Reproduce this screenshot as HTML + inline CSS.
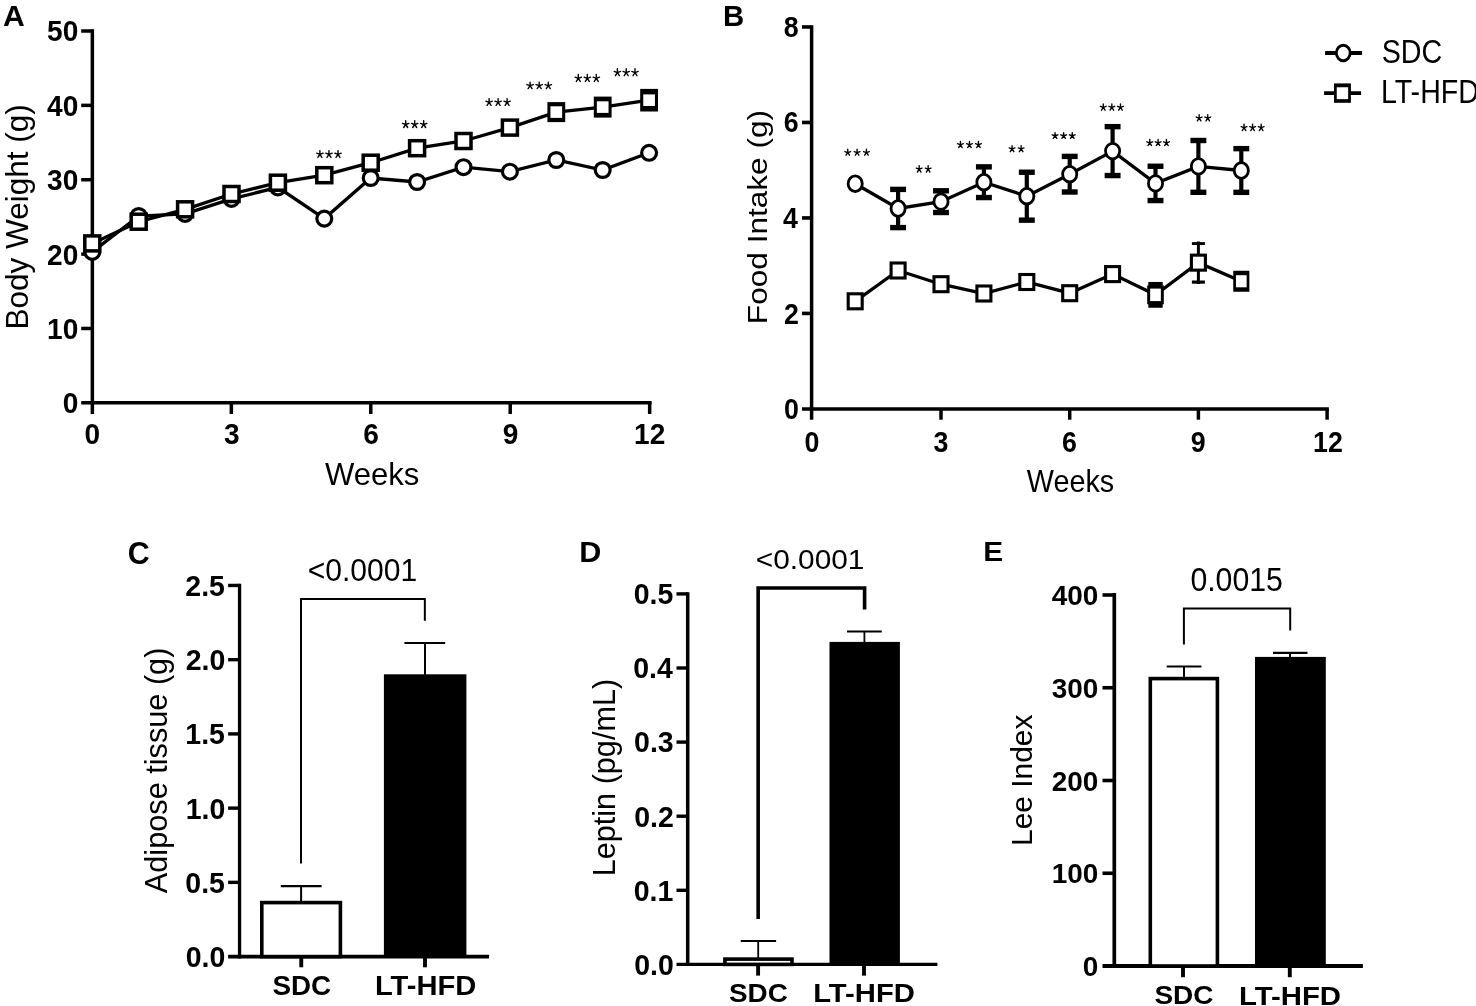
<!DOCTYPE html>
<html><head><meta charset="utf-8"><style>
html,body{margin:0;padding:0;background:#fff;}
svg{display:block;will-change:transform;}
text{font-family:"Liberation Sans",sans-serif;fill:#000;stroke:none;}
</style></head><body>
<svg width="1476" height="1006" viewBox="0 0 1476 1006" stroke="#000" stroke-linecap="butt">
<rect x="0" y="0" width="1476" height="1006" fill="#fff" stroke="none"/>
<text transform="translate(2.95,25.80) scale(1.0099,1)" font-size="29.86" font-weight="bold">A</text>
<line x1="92.35" y1="29.25" x2="92.35" y2="414.00" stroke-width="3.5"/>
<line x1="81.20" y1="402.85" x2="651.66" y2="402.85" stroke-width="3.5"/>
<line x1="81.20" y1="328.48" x2="92.35" y2="328.48" stroke-width="3.5"/>
<line x1="81.20" y1="254.11" x2="92.35" y2="254.11" stroke-width="3.5"/>
<line x1="81.20" y1="179.74" x2="92.35" y2="179.74" stroke-width="3.5"/>
<line x1="81.20" y1="105.37" x2="92.35" y2="105.37" stroke-width="3.5"/>
<line x1="81.20" y1="31.00" x2="92.35" y2="31.00" stroke-width="3.5"/>
<line x1="231.34" y1="402.85" x2="231.34" y2="414.00" stroke-width="3.5"/>
<line x1="370.78" y1="402.85" x2="370.78" y2="414.00" stroke-width="3.5"/>
<line x1="510.22" y1="402.85" x2="510.22" y2="414.00" stroke-width="3.5"/>
<line x1="649.66" y1="402.85" x2="649.66" y2="414.00" stroke-width="3.5"/>
<text transform="translate(62.64,413.24) scale(0.9796,1)" font-size="28.66" font-weight="bold">0</text>
<text transform="translate(47.06,338.87) scale(0.9796,1)" font-size="28.66" font-weight="bold">10</text>
<text transform="translate(47.06,264.50) scale(0.9796,1)" font-size="28.66" font-weight="bold">20</text>
<text transform="translate(47.06,190.13) scale(0.9796,1)" font-size="28.66" font-weight="bold">30</text>
<text transform="translate(47.06,115.76) scale(0.9796,1)" font-size="28.66" font-weight="bold">40</text>
<text transform="translate(47.06,41.39) scale(0.9796,1)" font-size="28.66" font-weight="bold">50</text>
<text transform="translate(84.41,443.69) scale(0.9796,1)" font-size="28.66" font-weight="bold">0</text>
<text transform="translate(223.99,443.69) scale(0.9796,1)" font-size="28.66" font-weight="bold">3</text>
<text transform="translate(363.29,443.69) scale(0.9796,1)" font-size="28.66" font-weight="bold">6</text>
<text transform="translate(502.73,443.69) scale(0.9796,1)" font-size="28.66" font-weight="bold">9</text>
<text transform="translate(634.03,443.83) scale(0.9796,1)" font-size="28.66" font-weight="bold">12</text>
<text transform="translate(324.94,484.69) scale(1.0070,1)" font-size="30.88">Weeks</text>
<text transform="translate(28.49,329.52) rotate(-90) scale(1.0160,1)" font-size="31.02">Body Weight (g)</text>
<polyline points="92.30,251.90 138.70,216.00 185.10,213.90 231.50,198.90 277.90,187.40 324.30,218.60 370.70,178.00 417.10,182.00 463.50,167.20 509.90,171.70 556.30,160.00 602.70,170.00 649.10,152.80" fill="none" stroke-width="3.3" stroke-linejoin="miter"/>
<ellipse cx="92.30" cy="251.90" rx="7.45" ry="7.45" fill="#fff" stroke-width="3.2"/>
<ellipse cx="138.70" cy="216.00" rx="7.45" ry="7.45" fill="#fff" stroke-width="3.2"/>
<ellipse cx="185.10" cy="213.90" rx="7.45" ry="7.45" fill="#fff" stroke-width="3.2"/>
<ellipse cx="231.50" cy="198.90" rx="7.45" ry="7.45" fill="#fff" stroke-width="3.2"/>
<ellipse cx="277.90" cy="187.40" rx="7.45" ry="7.45" fill="#fff" stroke-width="3.2"/>
<ellipse cx="324.30" cy="218.60" rx="7.45" ry="7.45" fill="#fff" stroke-width="3.2"/>
<ellipse cx="370.70" cy="178.00" rx="7.45" ry="7.45" fill="#fff" stroke-width="3.2"/>
<ellipse cx="417.10" cy="182.00" rx="7.45" ry="7.45" fill="#fff" stroke-width="3.2"/>
<ellipse cx="463.50" cy="167.20" rx="7.45" ry="7.45" fill="#fff" stroke-width="3.2"/>
<ellipse cx="509.90" cy="171.70" rx="7.45" ry="7.45" fill="#fff" stroke-width="3.2"/>
<ellipse cx="556.30" cy="160.00" rx="7.45" ry="7.45" fill="#fff" stroke-width="3.2"/>
<ellipse cx="602.70" cy="170.00" rx="7.45" ry="7.45" fill="#fff" stroke-width="3.2"/>
<ellipse cx="649.10" cy="152.80" rx="7.45" ry="7.45" fill="#fff" stroke-width="3.2"/>
<polyline points="92.30,243.40 138.70,221.70 185.10,209.30 231.50,194.00 277.90,182.70 324.30,175.20 370.70,162.70 417.10,148.20 463.50,141.00 509.90,127.60 556.30,112.10 602.70,107.10 649.10,100.20" fill="none" stroke-width="3.3" stroke-linejoin="miter"/>
<rect x="84.80" y="235.90" width="15.00" height="15.00" fill="#fff" stroke-width="3.5"/>
<rect x="131.20" y="214.20" width="15.00" height="15.00" fill="#fff" stroke-width="3.5"/>
<rect x="177.60" y="201.80" width="15.00" height="15.00" fill="#fff" stroke-width="3.5"/>
<rect x="224.00" y="186.50" width="15.00" height="15.00" fill="#fff" stroke-width="3.5"/>
<rect x="270.40" y="175.20" width="15.00" height="15.00" fill="#fff" stroke-width="3.5"/>
<rect x="316.80" y="167.70" width="15.00" height="15.00" fill="#fff" stroke-width="3.5"/>
<rect x="363.20" y="155.20" width="15.00" height="15.00" fill="#fff" stroke-width="3.5"/>
<rect x="409.60" y="140.70" width="15.00" height="15.00" fill="#fff" stroke-width="3.5"/>
<rect x="456.00" y="133.50" width="15.00" height="15.00" fill="#fff" stroke-width="3.5"/>
<rect x="502.40" y="120.10" width="15.00" height="15.00" fill="#fff" stroke-width="3.5"/>
<rect x="547.40" y="102.10" width="17.80" height="20.00" fill="#000" stroke="none"/>
<rect x="550.45" y="106.30" width="11.70" height="11.60" fill="#fff" stroke="none"/>
<rect x="593.80" y="96.60" width="17.80" height="21.00" fill="#000" stroke="none"/>
<rect x="596.85" y="101.30" width="11.70" height="11.60" fill="#fff" stroke="none"/>
<rect x="640.20" y="88.90" width="17.80" height="22.60" fill="#000" stroke="none"/>
<rect x="643.25" y="94.40" width="11.70" height="11.60" fill="#fff" stroke="none"/>
<path d="M319.90,154.36L319.90,150.60M319.90,154.36L323.10,153.20M319.90,154.36L316.70,153.20M319.90,154.36L317.92,157.40M319.90,154.36L321.88,157.40M328.95,154.36L328.95,150.60M328.95,154.36L332.15,153.20M328.95,154.36L325.75,153.20M328.95,154.36L326.97,157.40M328.95,154.36L330.93,157.40M338.00,154.36L338.00,150.60M338.00,154.36L341.20,153.20M338.00,154.36L334.80,153.20M338.00,154.36L336.02,157.40M338.00,154.36L339.98,157.40" fill="none" stroke-width="1.4" stroke-linecap="round"/>
<path d="M405.70,124.50L405.70,120.80M405.70,124.50L408.90,123.36M405.70,124.50L402.50,123.36M405.70,124.50L403.72,127.50M405.70,124.50L407.68,127.50M414.70,124.50L414.70,120.80M414.70,124.50L417.90,123.36M414.70,124.50L411.50,123.36M414.70,124.50L412.72,127.50M414.70,124.50L416.68,127.50M423.70,124.50L423.70,120.80M423.70,124.50L426.90,123.36M423.70,124.50L420.50,123.36M423.70,124.50L421.72,127.50M423.70,124.50L425.68,127.50" fill="none" stroke-width="1.4" stroke-linecap="round"/>
<path d="M489.10,102.30L489.10,98.60M489.10,102.30L492.30,101.16M489.10,102.30L485.90,101.16M489.10,102.30L487.12,105.30M489.10,102.30L491.08,105.30M498.10,102.30L498.10,98.60M498.10,102.30L501.30,101.16M498.10,102.30L494.90,101.16M498.10,102.30L496.12,105.30M498.10,102.30L500.08,105.30M507.10,102.30L507.10,98.60M507.10,102.30L510.30,101.16M507.10,102.30L503.90,101.16M507.10,102.30L505.12,105.30M507.10,102.30L509.08,105.30" fill="none" stroke-width="1.4" stroke-linecap="round"/>
<path d="M530.10,85.69L530.10,82.10M530.10,85.69L533.30,84.58M530.10,85.69L526.90,84.58M530.10,85.69L528.12,88.60M530.10,85.69L532.08,88.60M539.20,85.69L539.20,82.10M539.20,85.69L542.40,84.58M539.20,85.69L536.00,84.58M539.20,85.69L537.22,88.60M539.20,85.69L541.18,88.60M548.30,85.69L548.30,82.10M548.30,85.69L551.50,84.58M548.30,85.69L545.10,84.58M548.30,85.69L546.32,88.60M548.30,85.69L550.28,88.60" fill="none" stroke-width="1.4" stroke-linecap="round"/>
<path d="M578.30,78.31L578.30,74.50M578.30,78.31L581.50,77.14M578.30,78.31L575.10,77.14M578.30,78.31L576.32,81.40M578.30,78.31L580.28,81.40M587.30,78.31L587.30,74.50M587.30,78.31L590.50,77.14M587.30,78.31L584.10,77.14M587.30,78.31L585.32,81.40M587.30,78.31L589.28,81.40M596.30,78.31L596.30,74.50M596.30,78.31L599.50,77.14M596.30,78.31L593.10,77.14M596.30,78.31L594.32,81.40M596.30,78.31L598.28,81.40" fill="none" stroke-width="1.4" stroke-linecap="round"/>
<path d="M617.40,72.61L617.40,68.80M617.40,72.61L620.60,71.44M617.40,72.61L614.20,71.44M617.40,72.61L615.42,75.70M617.40,72.61L619.38,75.70M626.20,72.61L626.20,68.80M626.20,72.61L629.40,71.44M626.20,72.61L623.00,71.44M626.20,72.61L624.22,75.70M626.20,72.61L628.18,75.70M635.00,72.61L635.00,68.80M635.00,72.61L638.20,71.44M635.00,72.61L631.80,71.44M635.00,72.61L633.02,75.70M635.00,72.61L636.98,75.70" fill="none" stroke-width="1.4" stroke-linecap="round"/>
<text transform="translate(722.89,26.10) scale(0.9688,1)" font-size="30.29" font-weight="bold">B</text>
<line x1="811.60" y1="25.28" x2="811.60" y2="419.70" stroke-width="3.5"/>
<line x1="802.00" y1="408.90" x2="1328.85" y2="408.90" stroke-width="3.5"/>
<line x1="802.00" y1="313.42" x2="811.60" y2="313.42" stroke-width="3.6"/>
<line x1="802.00" y1="217.94" x2="811.60" y2="217.94" stroke-width="3.6"/>
<line x1="802.00" y1="122.46" x2="811.60" y2="122.46" stroke-width="3.6"/>
<line x1="802.00" y1="26.98" x2="811.60" y2="26.98" stroke-width="3.6"/>
<line x1="941.00" y1="408.90" x2="941.00" y2="419.70" stroke-width="3.5"/>
<line x1="1069.70" y1="408.90" x2="1069.70" y2="419.70" stroke-width="3.5"/>
<line x1="1198.40" y1="408.90" x2="1198.40" y2="419.70" stroke-width="3.5"/>
<line x1="1327.10" y1="408.90" x2="1327.10" y2="419.70" stroke-width="3.5"/>
<text transform="translate(784.01,418.84) scale(0.9300,1)" font-size="28.80" font-weight="bold">0</text>
<text transform="translate(784.01,323.50) scale(0.9300,1)" font-size="28.80" font-weight="bold">2</text>
<text transform="translate(783.07,227.88) scale(0.9300,1)" font-size="28.80" font-weight="bold">4</text>
<text transform="translate(783.87,132.40) scale(0.9300,1)" font-size="28.80" font-weight="bold">6</text>
<text transform="translate(783.74,36.92) scale(0.9300,1)" font-size="28.80" font-weight="bold">8</text>
<text transform="translate(804.57,451.74) scale(0.9300,1)" font-size="28.80" font-weight="bold">0</text>
<text transform="translate(933.40,451.74) scale(0.9300,1)" font-size="28.80" font-weight="bold">3</text>
<text transform="translate(1061.97,451.74) scale(0.9300,1)" font-size="28.80" font-weight="bold">6</text>
<text transform="translate(1190.67,451.74) scale(0.9300,1)" font-size="28.80" font-weight="bold">9</text>
<text transform="translate(1313.10,451.88) scale(0.9300,1)" font-size="28.80" font-weight="bold">12</text>
<text transform="translate(1026.86,491.88) scale(0.9114,1)" font-size="31.56">Weeks</text>
<text transform="translate(767.20,324.13) rotate(-90) scale(1.1059,1)" font-size="28.56">Food Intake (g)</text>
<line x1="1325.10" y1="53.00" x2="1362.10" y2="53.00" stroke-width="4"/>
<ellipse cx="1343.25" cy="53.00" rx="6.90" ry="7.75" fill="#fff" stroke-width="2.8"/>
<text transform="translate(1381.71,63.06) scale(0.8488,1)" font-size="33.80">SDC</text>
<line x1="1324.10" y1="93.10" x2="1361.10" y2="93.10" stroke-width="3.7"/>
<rect x="1334.00" y="83.40" width="16.90" height="19.40" fill="#000" stroke="none"/>
<rect x="1336.75" y="87.25" width="11.40" height="11.90" fill="#fff" stroke="none"/>
<text transform="translate(1380.96,103.10) scale(0.8768,1)" font-size="32.61">LT-HFD</text>
<polyline points="855.20,301.30 898.10,270.50 941.00,284.20 983.90,293.50 1026.80,282.00 1069.70,293.20 1112.60,274.10 1155.50,294.85 1198.40,262.65 1241.30,281.25" fill="none" stroke-width="3.3" stroke-linejoin="miter"/>
<rect x="848.20" y="293.80" width="14.00" height="15.00" fill="#fff" stroke-width="3.1"/>
<rect x="891.10" y="263.00" width="14.00" height="15.00" fill="#fff" stroke-width="3.1"/>
<rect x="934.00" y="276.70" width="14.00" height="15.00" fill="#fff" stroke-width="3.1"/>
<rect x="976.90" y="286.00" width="14.00" height="15.00" fill="#fff" stroke-width="3.1"/>
<rect x="1019.80" y="274.50" width="14.00" height="15.00" fill="#fff" stroke-width="3.1"/>
<rect x="1062.70" y="285.70" width="14.00" height="15.00" fill="#fff" stroke-width="3.1"/>
<rect x="1105.60" y="266.60" width="14.00" height="15.00" fill="#fff" stroke-width="3.1"/>
<rect x="1148.30" y="281.95" width="14.40" height="25.80" fill="#000" stroke="none"/>
<rect x="1147.20" y="285.45" width="16.60" height="18.80" fill="#000" stroke="none"/>
<rect x="1150.15" y="288.60" width="10.70" height="12.50" fill="#fff" stroke="none"/>
<line x1="1198.40" y1="241.50" x2="1198.40" y2="284.00" stroke-width="3.0"/>
<rect x="1191.90" y="242.10" width="13.00" height="2.90" fill="#000" stroke="none"/>
<rect x="1191.90" y="280.50" width="13.00" height="3.20" fill="#000" stroke="none"/>
<rect x="1191.40" y="255.15" width="14.00" height="15.00" fill="#fff" stroke-width="3.1"/>
<rect x="1233.25" y="270.75" width="16.10" height="21.00" fill="#000" stroke="none"/>
<rect x="1235.95" y="275.20" width="10.70" height="12.10" fill="#fff" stroke="none"/>
<polyline points="855.20,183.70 898.10,208.50 941.00,201.65 983.90,182.20 1026.80,196.20 1069.70,174.20 1112.60,151.10 1155.50,183.40 1198.40,166.40 1241.30,170.50" fill="none" stroke-width="3.3" stroke-linejoin="miter"/>
<ellipse cx="855.20" cy="183.70" rx="7.08" ry="7.78" fill="#fff" stroke-width="2.8"/>
<line x1="898.10" y1="189.40" x2="898.10" y2="227.60" stroke-width="4.2"/>
<rect x="890.15" y="186.70" width="15.90" height="5.40" fill="#000" stroke="none"/>
<rect x="890.15" y="224.90" width="15.90" height="5.40" fill="#000" stroke="none"/>
<ellipse cx="898.10" cy="208.50" rx="7.08" ry="7.78" fill="#fff" stroke-width="2.8"/>
<line x1="941.00" y1="190.80" x2="941.00" y2="212.50" stroke-width="4.2"/>
<rect x="933.05" y="188.10" width="15.90" height="5.40" fill="#000" stroke="none"/>
<rect x="933.05" y="209.80" width="15.90" height="5.40" fill="#000" stroke="none"/>
<ellipse cx="941.00" cy="201.65" rx="7.08" ry="7.78" fill="#fff" stroke-width="2.8"/>
<line x1="983.90" y1="166.85" x2="983.90" y2="197.55" stroke-width="4.2"/>
<rect x="975.95" y="164.15" width="15.90" height="5.40" fill="#000" stroke="none"/>
<rect x="975.95" y="194.85" width="15.90" height="5.40" fill="#000" stroke="none"/>
<ellipse cx="983.90" cy="182.20" rx="7.08" ry="7.78" fill="#fff" stroke-width="2.8"/>
<line x1="1026.80" y1="172.25" x2="1026.80" y2="220.15" stroke-width="4.2"/>
<rect x="1018.85" y="169.55" width="15.90" height="5.40" fill="#000" stroke="none"/>
<rect x="1018.85" y="217.45" width="15.90" height="5.40" fill="#000" stroke="none"/>
<ellipse cx="1026.80" cy="196.20" rx="7.08" ry="7.78" fill="#fff" stroke-width="2.8"/>
<line x1="1069.70" y1="156.40" x2="1069.70" y2="192.00" stroke-width="4.2"/>
<rect x="1061.75" y="153.70" width="15.90" height="5.40" fill="#000" stroke="none"/>
<rect x="1061.75" y="189.30" width="15.90" height="5.40" fill="#000" stroke="none"/>
<ellipse cx="1069.70" cy="174.20" rx="7.08" ry="7.78" fill="#fff" stroke-width="2.8"/>
<line x1="1112.60" y1="126.65" x2="1112.60" y2="175.55" stroke-width="4.2"/>
<rect x="1104.65" y="123.95" width="15.90" height="5.40" fill="#000" stroke="none"/>
<rect x="1104.65" y="172.85" width="15.90" height="5.40" fill="#000" stroke="none"/>
<ellipse cx="1112.60" cy="151.10" rx="7.08" ry="7.78" fill="#fff" stroke-width="2.8"/>
<line x1="1155.50" y1="166.25" x2="1155.50" y2="200.55" stroke-width="4.2"/>
<rect x="1147.55" y="163.55" width="15.90" height="5.40" fill="#000" stroke="none"/>
<rect x="1147.55" y="197.85" width="15.90" height="5.40" fill="#000" stroke="none"/>
<ellipse cx="1155.50" cy="183.40" rx="7.08" ry="7.78" fill="#fff" stroke-width="2.8"/>
<line x1="1198.40" y1="140.50" x2="1198.40" y2="192.30" stroke-width="4.2"/>
<rect x="1190.45" y="137.80" width="15.90" height="5.40" fill="#000" stroke="none"/>
<rect x="1190.45" y="189.60" width="15.90" height="5.40" fill="#000" stroke="none"/>
<ellipse cx="1198.40" cy="166.40" rx="7.08" ry="7.78" fill="#fff" stroke-width="2.8"/>
<line x1="1241.30" y1="148.65" x2="1241.30" y2="192.35" stroke-width="4.2"/>
<rect x="1233.35" y="145.95" width="15.90" height="5.40" fill="#000" stroke="none"/>
<rect x="1233.35" y="189.65" width="15.90" height="5.40" fill="#000" stroke="none"/>
<ellipse cx="1241.30" cy="170.50" rx="7.08" ry="7.78" fill="#fff" stroke-width="2.8"/>
<path d="M847.75,152.56L847.75,149.28M847.75,152.56L850.63,151.55M847.75,152.56L844.87,151.55M847.75,152.56L845.97,155.23M847.75,152.56L849.53,155.23M857.10,152.56L857.10,149.28M857.10,152.56L859.98,151.55M857.10,152.56L854.22,151.55M857.10,152.56L855.32,155.23M857.10,152.56L858.88,155.23M866.45,152.56L866.45,149.28M866.45,152.56L869.33,151.55M866.45,152.56L863.57,151.55M866.45,152.56L864.67,155.23M866.45,152.56L868.23,155.23" fill="none" stroke-width="1.35" stroke-linecap="round"/>
<path d="M919.15,169.20L919.15,165.58M919.15,169.20L922.03,168.08M919.15,169.20L916.27,168.08M919.15,169.20L917.37,172.13M919.15,169.20L920.93,172.13M928.15,169.20L928.15,165.58M928.15,169.20L931.03,168.08M928.15,169.20L925.27,168.08M928.15,169.20L926.37,172.13M928.15,169.20L929.93,172.13" fill="none" stroke-width="1.35" stroke-linecap="round"/>
<path d="M960.45,144.77L960.45,141.38M960.45,144.77L963.33,143.72M960.45,144.77L957.57,143.72M960.45,144.77L958.67,147.53M960.45,144.77L962.23,147.53M969.45,144.77L969.45,141.38M969.45,144.77L972.33,143.72M969.45,144.77L966.57,143.72M969.45,144.77L967.67,147.53M969.45,144.77L971.23,147.53M978.45,144.77L978.45,141.38M978.45,144.77L981.33,143.72M978.45,144.77L975.57,143.72M978.45,144.77L976.67,147.53M978.45,144.77L980.23,147.53" fill="none" stroke-width="1.35" stroke-linecap="round"/>
<path d="M1012.05,148.97L1012.05,145.58M1012.05,148.97L1014.93,147.92M1012.05,148.97L1009.17,147.92M1012.05,148.97L1010.27,151.73M1012.05,148.97L1013.83,151.73M1021.15,148.97L1021.15,145.58M1021.15,148.97L1024.03,147.92M1021.15,148.97L1018.27,147.92M1021.15,148.97L1019.37,151.73M1021.15,148.97L1022.93,151.73" fill="none" stroke-width="1.35" stroke-linecap="round"/>
<path d="M1055.05,135.75L1055.05,132.58M1055.05,135.75L1057.93,134.77M1055.05,135.75L1052.17,134.77M1055.05,135.75L1053.27,138.33M1055.05,135.75L1056.83,138.33M1063.65,135.75L1063.65,132.58M1063.65,135.75L1066.53,134.77M1063.65,135.75L1060.77,134.77M1063.65,135.75L1061.87,138.33M1063.65,135.75L1065.43,138.33M1072.25,135.75L1072.25,132.58M1072.25,135.75L1075.13,134.77M1072.25,135.75L1069.37,134.77M1072.25,135.75L1070.47,138.33M1072.25,135.75L1074.03,138.33" fill="none" stroke-width="1.35" stroke-linecap="round"/>
<path d="M1103.25,107.39L1103.25,103.88M1103.25,107.39L1106.13,106.30M1103.25,107.39L1100.37,106.30M1103.25,107.39L1101.47,110.23M1103.25,107.39L1105.03,110.23M1111.85,107.39L1111.85,103.88M1111.85,107.39L1114.73,106.30M1111.85,107.39L1108.97,106.30M1111.85,107.39L1110.07,110.23M1111.85,107.39L1113.63,110.23M1120.45,107.39L1120.45,103.88M1120.45,107.39L1123.33,106.30M1120.45,107.39L1117.57,106.30M1120.45,107.39L1118.67,110.23M1120.45,107.39L1122.23,110.23" fill="none" stroke-width="1.35" stroke-linecap="round"/>
<path d="M1149.75,142.82L1149.75,139.48M1149.75,142.82L1152.63,141.79M1149.75,142.82L1146.87,141.79M1149.75,142.82L1147.97,145.53M1149.75,142.82L1151.53,145.53M1158.10,142.82L1158.10,139.48M1158.10,142.82L1160.98,141.79M1158.10,142.82L1155.22,141.79M1158.10,142.82L1156.32,145.53M1158.10,142.82L1159.88,145.53M1166.45,142.82L1166.45,139.48M1166.45,142.82L1169.33,141.79M1166.45,142.82L1163.57,141.79M1166.45,142.82L1164.67,145.53M1166.45,142.82L1168.23,145.53" fill="none" stroke-width="1.35" stroke-linecap="round"/>
<path d="M1199.15,118.13L1199.15,114.67M1199.15,118.13L1202.03,117.06M1199.15,118.13L1196.27,117.06M1199.15,118.13L1197.37,120.93M1199.15,118.13L1200.93,120.93M1207.75,118.13L1207.75,114.67M1207.75,118.13L1210.63,117.06M1207.75,118.13L1204.87,117.06M1207.75,118.13L1205.97,120.93M1207.75,118.13L1209.53,120.93" fill="none" stroke-width="1.35" stroke-linecap="round"/>
<path d="M1244.05,127.70L1244.05,124.08M1244.05,127.70L1246.93,126.58M1244.05,127.70L1241.17,126.58M1244.05,127.70L1242.27,130.63M1244.05,127.70L1245.83,130.63M1252.60,127.70L1252.60,124.08M1252.60,127.70L1255.48,126.58M1252.60,127.70L1249.72,126.58M1252.60,127.70L1250.82,130.63M1252.60,127.70L1254.38,130.63M1261.15,127.70L1261.15,124.08M1261.15,127.70L1264.03,126.58M1261.15,127.70L1258.27,126.58M1261.15,127.70L1259.37,130.63M1261.15,127.70L1262.93,130.63" fill="none" stroke-width="1.35" stroke-linecap="round"/>
<text transform="translate(127.78,563.69) scale(0.9850,1)" font-size="30.85" font-weight="bold">C</text>
<line x1="239.55" y1="583.75" x2="239.55" y2="958.40" stroke-width="3.3"/>
<line x1="228.10" y1="956.60" x2="489.00" y2="956.60" stroke-width="3.6"/>
<line x1="228.10" y1="882.37" x2="239.55" y2="882.37" stroke-width="3.4"/>
<line x1="228.10" y1="808.14" x2="239.55" y2="808.14" stroke-width="3.4"/>
<line x1="228.10" y1="733.91" x2="239.55" y2="733.91" stroke-width="3.4"/>
<line x1="228.10" y1="659.68" x2="239.55" y2="659.68" stroke-width="3.4"/>
<line x1="228.10" y1="585.45" x2="239.55" y2="585.45" stroke-width="3.4"/>
<line x1="301.25" y1="956.60" x2="301.25" y2="967.30" stroke-width="3.9"/>
<line x1="425.00" y1="956.60" x2="425.00" y2="967.30" stroke-width="3.9"/>
<text transform="translate(185.73,967.01) scale(0.9918,1)" font-size="28.73" font-weight="bold">0.0</text>
<text transform="translate(185.30,892.78) scale(0.9918,1)" font-size="28.73" font-weight="bold">0.5</text>
<text transform="translate(185.73,818.55) scale(0.9918,1)" font-size="28.73" font-weight="bold">1.0</text>
<text transform="translate(185.30,744.18) scale(0.9918,1)" font-size="28.73" font-weight="bold">1.5</text>
<text transform="translate(185.73,670.09) scale(0.9918,1)" font-size="28.73" font-weight="bold">2.0</text>
<text transform="translate(185.30,595.86) scale(0.9918,1)" font-size="28.73" font-weight="bold">2.5</text>
<text transform="translate(272.46,995.03) scale(1.0135,1)" font-size="27.46" font-weight="bold">SDC</text>
<text transform="translate(374.90,995.30) scale(1.0317,1)" font-size="28.26" font-weight="bold">LT-HFD</text>
<rect x="261.8" y="902.6" width="78.6" height="54.00" fill="#fff" stroke-width="3.6"/>
<rect x="383.90" y="674.30" width="82.50" height="282.30" fill="#000" stroke="none"/>
<line x1="301.10" y1="886.10" x2="301.10" y2="902.60" stroke-width="2"/>
<line x1="280.80" y1="886.10" x2="321.60" y2="886.10" stroke-width="2.2"/>
<line x1="425.00" y1="643.00" x2="425.00" y2="675.00" stroke-width="2"/>
<line x1="404.40" y1="643.00" x2="445.20" y2="643.00" stroke-width="2.2"/>
<polyline points="301,863.6 301,599 424.85,599 424.85,620.8" fill="none" stroke-width="2"/>
<text transform="translate(307.70,580.69) scale(0.9613,1)" font-size="31.27">&lt;0.0001</text>
<text transform="translate(167.37,893.15) rotate(-90) scale(0.9726,1)" font-size="31.55">Adipose tissue (g)</text>
<text transform="translate(579.21,562.20) scale(1.0190,1)" font-size="30.00" font-weight="bold">D</text>
<line x1="687.70" y1="592.20" x2="687.70" y2="966.00" stroke-width="3.5"/>
<line x1="676.50" y1="964.40" x2="937.40" y2="964.40" stroke-width="3.3"/>
<line x1="676.50" y1="890.30" x2="687.70" y2="890.30" stroke-width="3.4"/>
<line x1="676.50" y1="816.20" x2="687.70" y2="816.20" stroke-width="3.4"/>
<line x1="676.50" y1="742.10" x2="687.70" y2="742.10" stroke-width="3.4"/>
<line x1="676.50" y1="668.00" x2="687.70" y2="668.00" stroke-width="3.4"/>
<line x1="676.50" y1="593.90" x2="687.70" y2="593.90" stroke-width="3.4"/>
<line x1="758.10" y1="964.40" x2="758.10" y2="975.60" stroke-width="3.9"/>
<line x1="864.00" y1="964.40" x2="864.00" y2="975.60" stroke-width="3.9"/>
<text transform="translate(634.19,974.71) scale(0.9833,1)" font-size="29.01" font-weight="bold">0.0</text>
<text transform="translate(633.76,900.61) scale(0.9833,1)" font-size="29.01" font-weight="bold">0.1</text>
<text transform="translate(634.19,826.51) scale(0.9833,1)" font-size="29.01" font-weight="bold">0.2</text>
<text transform="translate(634.04,752.41) scale(0.9833,1)" font-size="29.01" font-weight="bold">0.3</text>
<text transform="translate(633.19,678.31) scale(0.9833,1)" font-size="29.01" font-weight="bold">0.4</text>
<text transform="translate(633.76,604.21) scale(0.9833,1)" font-size="29.01" font-weight="bold">0.5</text>
<text transform="translate(728.96,1002.04) scale(1.0818,1)" font-size="25.77" font-weight="bold">SDC</text>
<text transform="translate(813.20,1002.30) scale(1.1015,1)" font-size="26.52" font-weight="bold">LT-HFD</text>
<rect x="724.9" y="959.1" width="67.1" height="5.30" fill="#fff" stroke-width="3.6"/>
<rect x="829.50" y="641.90" width="70.40" height="322.50" fill="#000" stroke="none"/>
<line x1="758.20" y1="941.10" x2="758.20" y2="959.00" stroke-width="1.8"/>
<line x1="740.70" y1="941.10" x2="776.10" y2="941.10" stroke-width="2.0"/>
<line x1="864.40" y1="631.50" x2="864.40" y2="642.50" stroke-width="1.8"/>
<line x1="847.00" y1="631.50" x2="881.80" y2="631.50" stroke-width="2.0"/>
<polyline points="758.15,919 758.15,588 864.6,588 864.6,609.4" fill="none" stroke-width="3.6"/>
<text transform="translate(755.81,568.82) scale(1.0537,1)" font-size="28.31">&lt;0.0001</text>
<text transform="translate(615.46,876.35) rotate(-90) scale(0.9846,1)" font-size="31.12">Leptin (pg/mL)</text>
<text transform="translate(983.17,560.90) scale(1.0630,1)" font-size="27.97" font-weight="bold">E</text>
<line x1="1114.30" y1="593.10" x2="1114.30" y2="967.90" stroke-width="3.7"/>
<line x1="1102.50" y1="966.00" x2="1362.90" y2="966.00" stroke-width="3.8"/>
<line x1="1102.50" y1="873.25" x2="1114.30" y2="873.25" stroke-width="3.6"/>
<line x1="1102.50" y1="780.50" x2="1114.30" y2="780.50" stroke-width="3.6"/>
<line x1="1102.50" y1="687.75" x2="1114.30" y2="687.75" stroke-width="3.6"/>
<line x1="1102.50" y1="595.00" x2="1114.30" y2="595.00" stroke-width="3.6"/>
<line x1="1183.00" y1="966.00" x2="1183.00" y2="977.20" stroke-width="3.9"/>
<line x1="1289.80" y1="966.00" x2="1289.80" y2="977.20" stroke-width="3.9"/>
<text transform="translate(1082.71,976.17) scale(0.9972,1)" font-size="28.03" font-weight="bold">0</text>
<text transform="translate(1051.68,883.42) scale(0.9972,1)" font-size="28.03" font-weight="bold">100</text>
<text transform="translate(1051.68,790.67) scale(0.9972,1)" font-size="28.03" font-weight="bold">200</text>
<text transform="translate(1051.68,697.92) scale(0.9972,1)" font-size="28.03" font-weight="bold">300</text>
<text transform="translate(1051.68,605.17) scale(0.9972,1)" font-size="28.03" font-weight="bold">400</text>
<text transform="translate(1154.46,1004.34) scale(1.0797,1)" font-size="25.92" font-weight="bold">SDC</text>
<text transform="translate(1238.99,1004.60) scale(1.1000,1)" font-size="26.67" font-weight="bold">LT-HFD</text>
<rect x="1150.3" y="678.6" width="67.1" height="287.40" fill="#fff" stroke-width="3.6"/>
<rect x="1255.00" y="656.90" width="70.80" height="309.10" fill="#000" stroke="none"/>
<line x1="1184.00" y1="666.50" x2="1184.00" y2="677.00" stroke-width="2"/>
<line x1="1166.70" y1="666.50" x2="1201.40" y2="666.50" stroke-width="2.2"/>
<line x1="1290.00" y1="652.80" x2="1290.00" y2="657.50" stroke-width="2"/>
<line x1="1273.00" y1="652.80" x2="1307.50" y2="652.80" stroke-width="2.2"/>
<polyline points="1183.9,644.6 1183.9,608.5 1290.2,608.5 1290.2,630.4" fill="none" stroke-width="2"/>
<text transform="translate(1190.39,591.47) scale(0.9263,1)" font-size="32.68">0.0015</text>
<text transform="translate(1032.30,846.00) rotate(-90) scale(0.9869,1)" font-size="30.34">Lee Index</text>
</svg>
</body></html>
